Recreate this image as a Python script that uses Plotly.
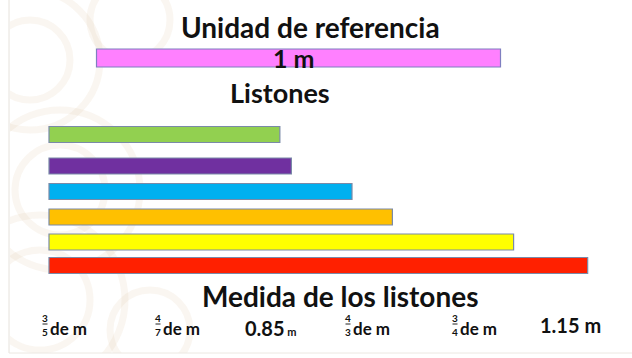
import plotly.graph_objects as go

# ---------------- data ----------------
ref_value = 1.0
ref_label = "1 m"
listones = [4/7, 3/5, 3/4, 0.85, 1.15, 4/3]          # lengths in metres, top to bottom
bar_colors = ["#92D050", "#7030A0", "#00B0F0", "#FFC000", "#FFFF00", "#FF2000"]
medidas = ["3/5", "4/7", "0.85", "4/3", "3/4", "1.15"]  # labels under the chart

# ---------------- layout constants (pixels) ----------------
W, H = 632, 358
PX_PER_M = 404.0
X0_PX = 49.0            # left edge of the listones
REF_X0_PX = 96.5        # left edge of reference bar
row_y = [134.5, 166, 191.5, 217, 242, 265.5]
ref_y = 58
bar_th = 16
ref_th = 18
label_x = [45, 158, 243, 348, 455, 538]
label_y = 328
FONT = "Lato"

x_range = [-X0_PX / PX_PER_M, (W - X0_PX) / PX_PER_M]
ref_base = (REF_X0_PX - X0_PX) / PX_PER_M

fig = go.Figure()

# reference unit bar
fig.add_trace(go.Bar(
    x=[ref_value], y=[ref_y], base=[ref_base], orientation="h", width=ref_th,
    marker=dict(color="#FF80FF", line=dict(color="#7f7fc0", width=1.2)),
    hoverinfo="skip", showlegend=False))

# listones
for v, yy, c in zip(listones, row_y, bar_colors):
    fig.add_trace(go.Bar(
        x=[v], y=[yy], base=[0], orientation="h", width=bar_th,
        marker=dict(color=c, line=dict(color="#7a8aa8", width=1.2)),
        hoverinfo="skip", showlegend=False))

ann = []
def txt(x, y, s, size, anchor="center", bold=True):
    ann.append(dict(x=x / W, y=y, xref="paper", yref="y", text=(f"<b>{s}</b>" if bold else s),
                    showarrow=False, xanchor=anchor, yanchor="middle",
                    font=dict(family=FONT, size=size, color="#111111")))

txt(310, 27, "Unidad de referencia", 28)
txt(294, 58, ref_label, 25)
txt(280, 92, "Listones", 27)
txt(340, 296, "Medida de los listones", 28)

shapes = []
# faint ornamental background on the left
arc_col = "rgba(225,200,165,0.16)"
for cx, cy, r in [(30, 60, 40), (30, 60, 70), (60, 190, 45), (60, 190, 80),
                  (40, 300, 50), (40, 300, 85), (130, 20, 40), (150, 330, 40)]:
    shapes.append(dict(type="circle", xref="paper", yref="y",
                       x0=(cx - r) / W, x1=(cx + r) / W, y0=cy - r, y1=cy + r,
                       line=dict(color=arc_col, width=7), layer="below"))
shapes.append(dict(type="rect", xref="paper", yref="paper", x0=0, x1=10 / W, y0=0, y1=1,
                   fillcolor="white", line=dict(width=0), layer="below"))
shapes.append(dict(type="line", xref="paper", yref="paper", x0=9 / W, x1=9 / W, y0=0, y1=1,
                   line=dict(color="#e6e2dc", width=1), layer="below"))
shapes.append(dict(type="rect", xref="paper", yref="y", x0=0, x1=1, y0=353, y1=358,
                   fillcolor="white", line=dict(width=0), layer="below"))
shapes.append(dict(type="line", xref="paper", yref="y", x0=9 / W, x1=1, y0=353, y1=353,
                   line=dict(color="#ece8e2", width=1), layer="below"))

# bottom measure labels
for lab, lx in zip(medidas, label_x):
    if "/" in lab:
        num, den = lab.split("/")
        ann.append(dict(x=lx / W, y=label_y - 10, xref="paper", yref="y", text=f"<b>{num}</b>",
                        showarrow=False, xanchor="center", yanchor="middle",
                        font=dict(family=FONT, size=10, color="#111")))
        ann.append(dict(x=lx / W, y=label_y + 3.5, xref="paper", yref="y", text=f"<b>{den}</b>",
                        showarrow=False, xanchor="center", yanchor="middle",
                        font=dict(family=FONT, size=10, color="#111")))
        shapes.append(dict(type="line", xref="paper", yref="y", x0=(lx - 2.5) / W, x1=(lx + 2.5) / W,
                           y0=label_y - 4, y1=label_y - 4, line=dict(color="#222", width=1)))
        txt(lx + 3, label_y, "de m", 17, anchor="left")
    else:
        if lab == "0.85":
            ann.append(dict(x=lx / W, y=label_y, xref="paper", yref="y",
                            text=f"<b>{lab}</b><span style='font-size:11px'><b> m</b></span>",
                            showarrow=False, xanchor="left", yanchor="middle",
                            font=dict(family=FONT, size=20, color="#111")))
        else:
            txt(lx, label_y - 3, f"{lab} m", 20, anchor="left")

fig.update_layout(
    width=W, height=H, margin=dict(l=0, r=0, t=0, b=0),
    paper_bgcolor="white", plot_bgcolor="rgba(0,0,0,0)",
    xaxis=dict(range=x_range, visible=False, fixedrange=True),
    yaxis=dict(range=[H, 0], visible=False, fixedrange=True),
    barmode="overlay", annotations=ann, shapes=shapes,
)

fig.write_html("out.html")
